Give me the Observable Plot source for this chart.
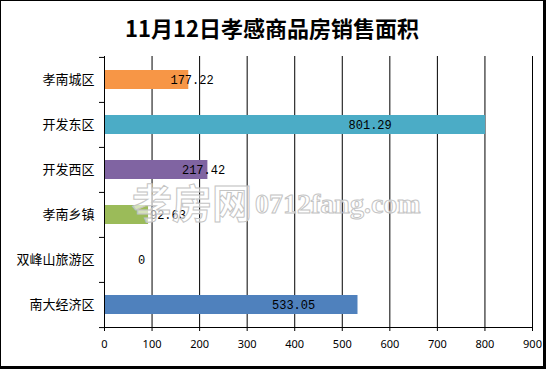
<!DOCTYPE html>
<html><head><meta charset="utf-8">
<script src="https://cdn.jsdelivr.net/npm/d3@7"></script>
<script src="https://cdn.jsdelivr.net/npm/@observablehq/plot@0.6"></script>
<style>
html,body{margin:0;padding:0;background:#fff;}
#frame{position:relative;width:542px;height:365px;border-left:1px solid #000;border-top:1px solid #000;border-right:3px solid #000;border-bottom:3px solid #000;background:#fff;overflow:hidden;}
#title{height:40px;box-sizing:border-box;padding-top:14px;line-height:24px;text-align:center;font-family:"Noto Sans CJK SC";font-weight:bold;font-size:22px;color:#000;}
#chart svg{display:block;}
#wm{position:absolute;left:0;top:0;pointer-events:none;}
</style>
</head><body>
<div id="frame">
  <div id="title">11月12日孝感商品房销售面积</div>
  <div id="chart"></div>
  <svg id="wm" width="542" height="365">
    <text x="131" y="217" font-family="Noto Sans CJK SC" font-weight="bold" font-size="40" fill="rgba(255,255,255,0.6)" stroke="#c4c4c4" stroke-width="1">孝房网</text>
    <text x="254" y="212" font-family="Liberation Serif" font-weight="bold" font-size="28" fill="rgba(255,255,255,0.6)" stroke="#c4c4c4" stroke-width="1">0712fang.com</text>
  </svg>
</div>
<script>
const districts = ["孝南城区","开发东区","开发西区","孝南乡镇","双峰山旅游区","南大经济区"];
const areas = [177.22, 801.29, 217.42, 92.63, 0, 533.05];
const barColors = ["#F79646","#4BACC6","#8064A2","#9BBB59","#C0504D","#4F81BD"];
const xTicks = [0,100,200,300,400,500,600,700,800,900];

const data = districts.map((name, i) => ({name, value: areas[i], color: barColors[i]}));

const W = 542, H = 325, mt = 15, mb = 39, ml = 103, mr = 11;
const step = (H - mt - mb) / districts.length;

const chart = Plot.plot({
  width: W, height: H,
  marginTop: mt, marginBottom: mb, marginLeft: ml, marginRight: mr,
  style: {background: "#fff", color: "#000", overflow: "visible"},
  x: {domain: [0, 900], ticks: xTicks, label: null},
  y: {domain: districts, padding: 0, axis: null, label: null},
  color: {type: "identity"},
  marks: [
    Plot.gridX(xTicks.slice(1), {stroke: "#000", strokeOpacity: 1, strokeWidth: 1}),
    Plot.barX(data, {x: "value", y: "name", fill: "color", insetTop: 13, insetBottom: 13}),
    Plot.ruleX([0], {stroke: "#000"}),
    Plot.frame({anchor: "bottom", stroke: "#000"}),
    Plot.axisX(xTicks, {tickSize: 4, tickPadding: 9, fontSize: 11, fontFamily: "Noto Sans", label: null, stroke: "#000"}),
    Plot.axisY(districts, {tickSize: 5, text: null, dy: -step / 2, stroke: "#000", label: null}),
    Plot.axisY([districts[districts.length - 1]], {tickSize: 5, text: null, dy: step / 2, stroke: "#000", label: null}),
    Plot.axisY(districts, {tickSize: 0, tickPadding: 10, fontSize: 13, fontFamily: "Noto Sans CJK SC", label: null}),
    Plot.text(data, {x: d => d.value * 0.6, y: "name", dx: 37, text: d => String(d.value), fontFamily: "Liberation Mono", fontSize: 12, fill: "#000"})
  ]
});
document.getElementById("chart").appendChild(chart);
</script>
</body></html>
